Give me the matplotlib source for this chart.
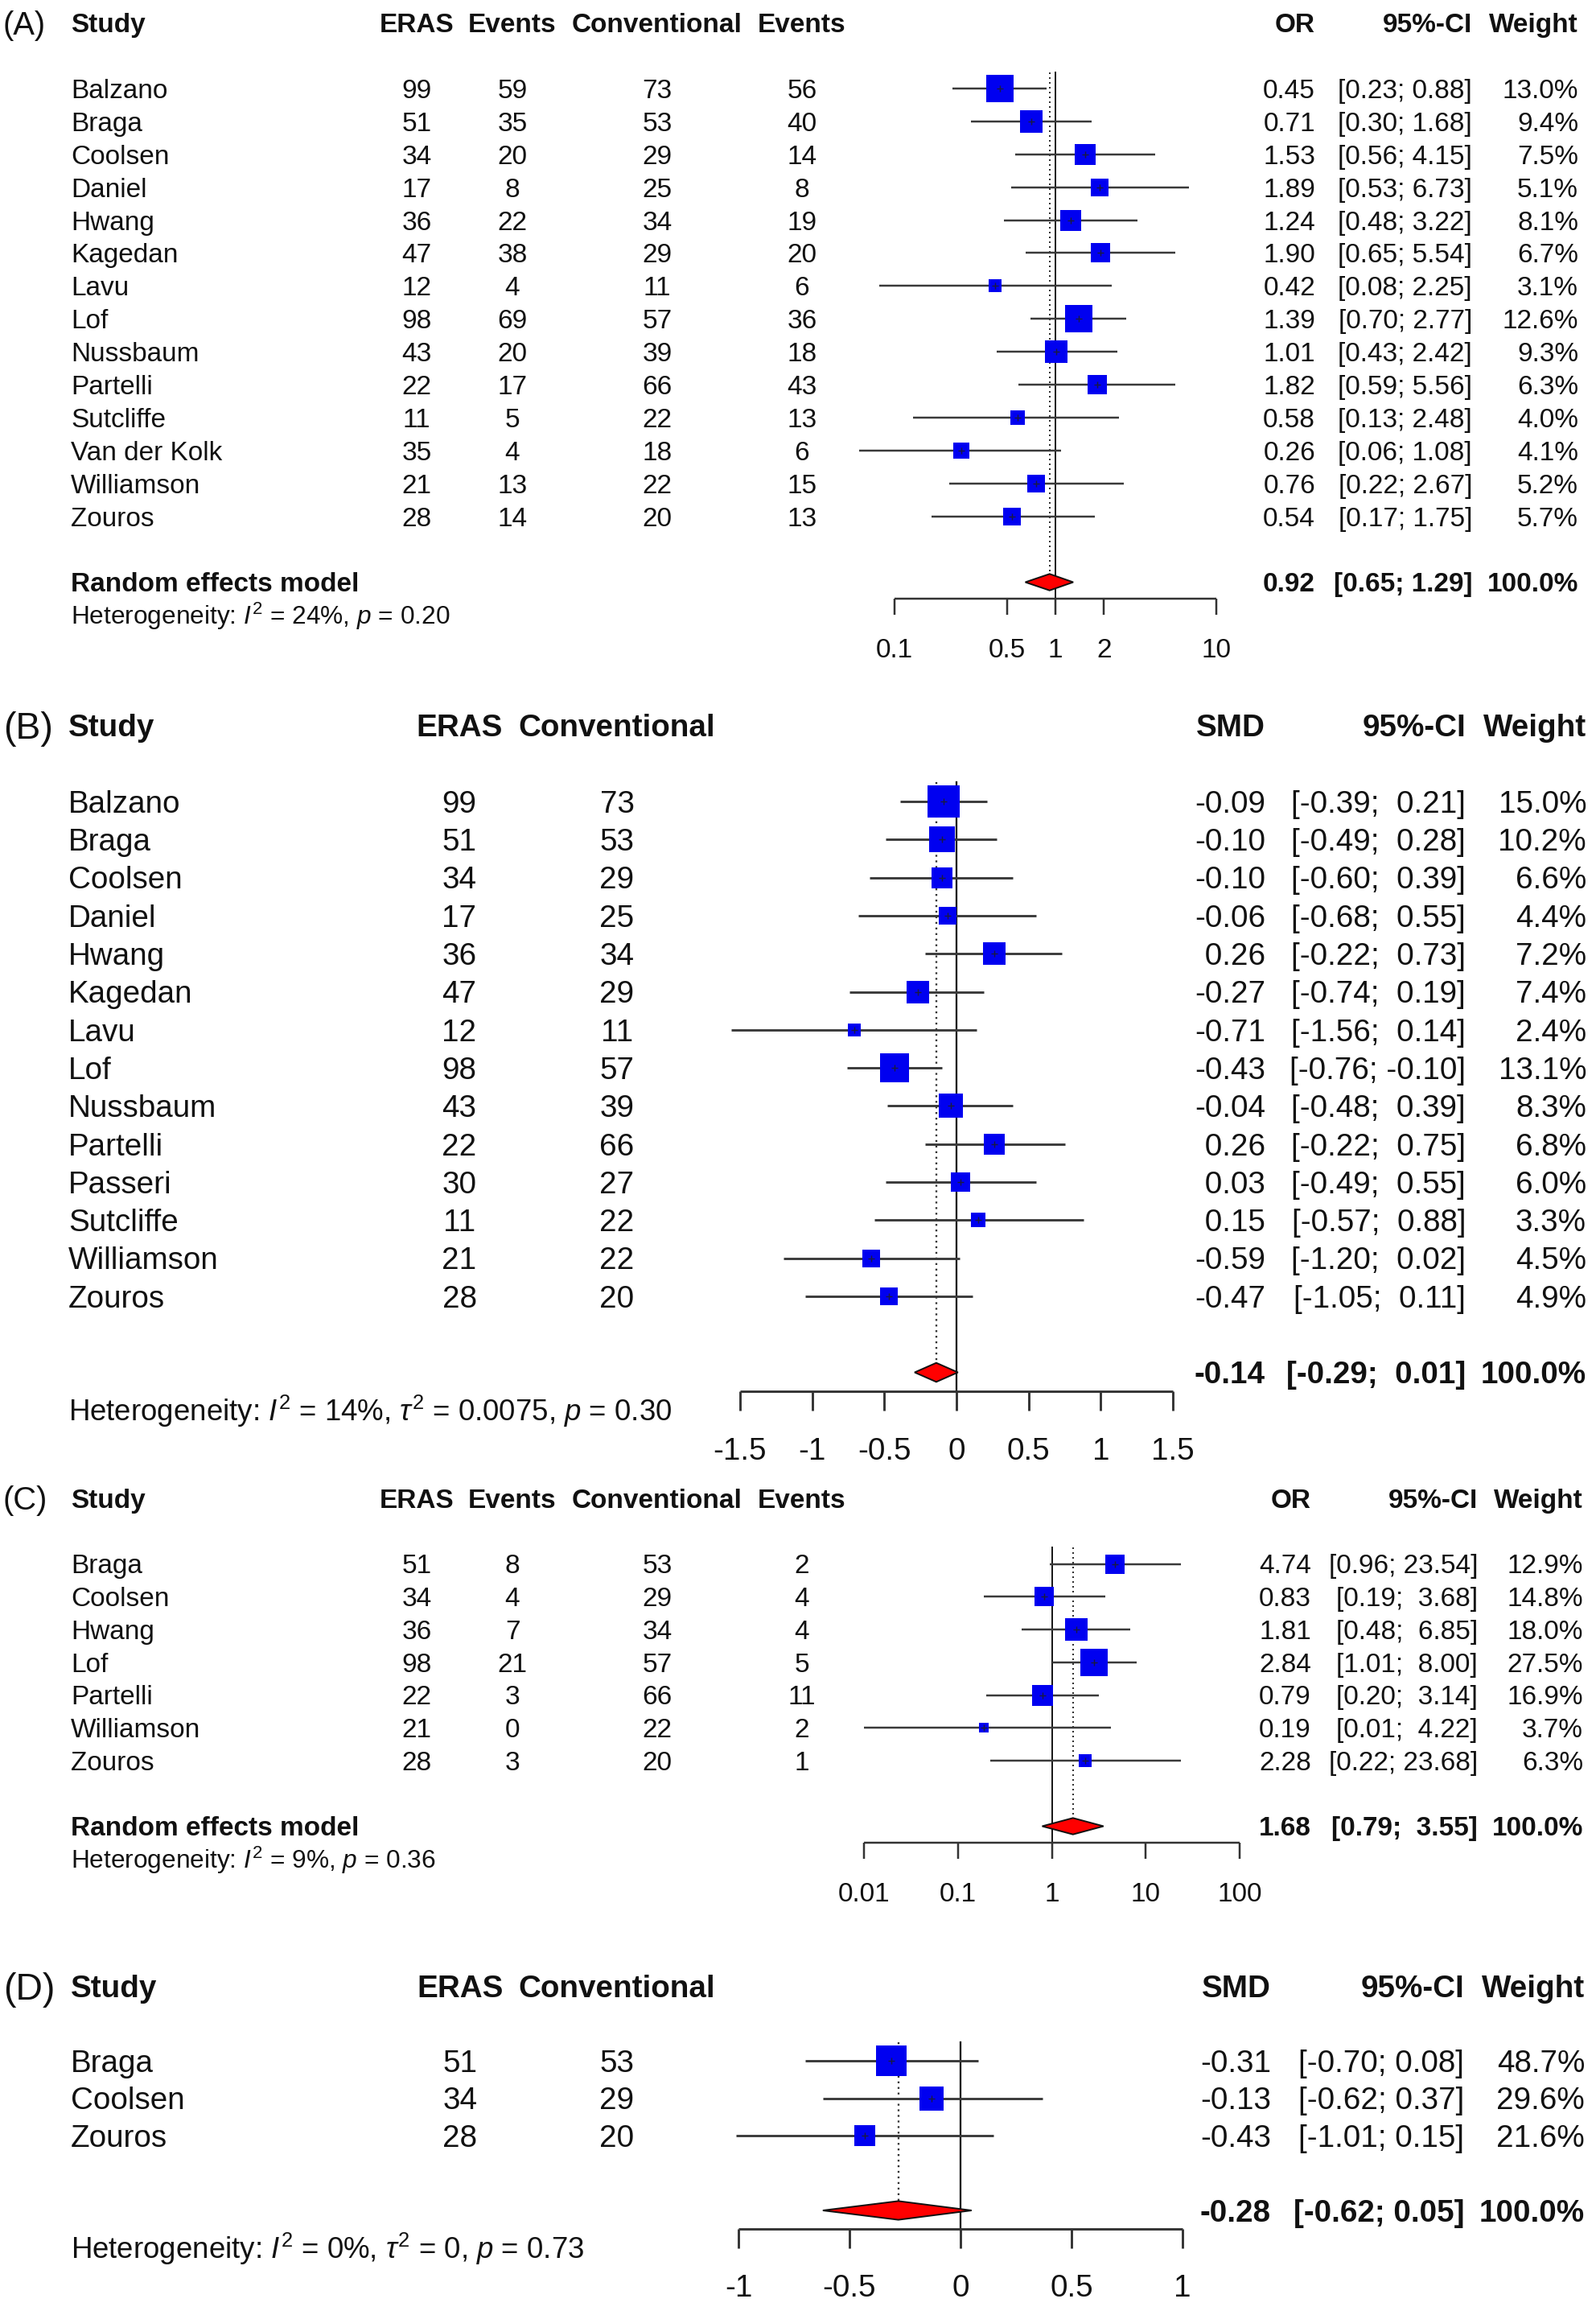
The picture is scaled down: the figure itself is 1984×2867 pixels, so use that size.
import numpy as np
import matplotlib
matplotlib.use("Agg")
import matplotlib.pyplot as plt
from matplotlib import transforms
from matplotlib.patches import Polygon

plt.rcParams['font.family'] = ['Liberation Sans', 'DejaVu Sans']
plt.rcParams['mathtext.fontset'] = 'custom'
plt.rcParams['mathtext.rm'] = 'Liberation Sans'
plt.rcParams['mathtext.it'] = 'Liberation Sans:italic'
plt.rcParams['mathtext.bf'] = 'Liberation Sans:bold'

W, H = 1984, 2867

# ---- panel A: OR, events ----
studies_a = ["Balzano", "Braga", "Coolsen", "Daniel", "Hwang", "Kagedan", "Lavu", "Lof",
             "Nussbaum", "Partelli", "Sutcliffe", "Van der Kolk", "Williamson", "Zouros"]
eras_n_a = [99, 51, 34, 17, 36, 47, 12, 98, 43, 22, 11, 35, 21, 28]
eras_ev_a = [59, 35, 20, 8, 22, 38, 4, 69, 20, 17, 5, 4, 13, 14]
conv_n_a = [73, 53, 29, 25, 34, 29, 11, 57, 39, 66, 22, 18, 22, 20]
conv_ev_a = [56, 40, 14, 8, 19, 20, 6, 36, 18, 43, 13, 6, 15, 13]
or_a = [0.45, 0.71, 1.53, 1.89, 1.24, 1.90, 0.42, 1.39, 1.01, 1.82, 0.58, 0.26, 0.76, 0.54]
lo_a = [0.23, 0.30, 0.56, 0.53, 0.48, 0.65, 0.08, 0.70, 0.43, 0.59, 0.13, 0.06, 0.22, 0.17]
hi_a = [0.88, 1.68, 4.15, 6.73, 3.22, 5.54, 2.25, 2.77, 2.42, 5.56, 2.48, 1.08, 2.67, 1.75]
w_a = [13.0, 9.4, 7.5, 5.1, 8.1, 6.7, 3.1, 12.6, 9.3, 6.3, 4.0, 4.1, 5.2, 5.7]
sum_a = (0.92, 0.65, 1.29)
het_a = r"Heterogeneity: $I^2$ = 24%, $p$ = 0.20"

# ---- panel B: SMD ----
studies_b = ["Balzano", "Braga", "Coolsen", "Daniel", "Hwang", "Kagedan", "Lavu", "Lof",
             "Nussbaum", "Partelli", "Passeri", "Sutcliffe", "Williamson", "Zouros"]
eras_n_b = [99, 51, 34, 17, 36, 47, 12, 98, 43, 22, 30, 11, 21, 28]
conv_n_b = [73, 53, 29, 25, 34, 29, 11, 57, 39, 66, 27, 22, 22, 20]
smd_b = [-0.09, -0.10, -0.10, -0.06, 0.26, -0.27, -0.71, -0.43, -0.04, 0.26, 0.03, 0.15, -0.59, -0.47]
lo_b = [-0.39, -0.49, -0.60, -0.68, -0.22, -0.74, -1.56, -0.76, -0.48, -0.22, -0.49, -0.57, -1.20, -1.05]
hi_b = [0.21, 0.28, 0.39, 0.55, 0.73, 0.19, 0.14, -0.10, 0.39, 0.75, 0.55, 0.88, 0.02, 0.11]
w_b = [15.0, 10.2, 6.6, 4.4, 7.2, 7.4, 2.4, 13.1, 8.3, 6.8, 6.0, 3.3, 4.5, 4.9]
sum_b = (-0.14, -0.29, 0.01)
het_b = r"Heterogeneity: $I^2$ = 14%, $\tau^2$ = 0.0075, $p$ = 0.30"

# ---- panel C: OR, events ----
studies_c = ["Braga", "Coolsen", "Hwang", "Lof", "Partelli", "Williamson", "Zouros"]
eras_n_c = [51, 34, 36, 98, 22, 21, 28]
eras_ev_c = [8, 4, 7, 21, 3, 0, 3]
conv_n_c = [53, 29, 34, 57, 66, 22, 20]
conv_ev_c = [2, 4, 4, 5, 11, 2, 1]
or_c = [4.74, 0.83, 1.81, 2.84, 0.79, 0.19, 2.28]
lo_c = [0.96, 0.19, 0.48, 1.01, 0.20, 0.01, 0.22]
hi_c = [23.54, 3.68, 6.85, 8.00, 3.14, 4.22, 23.68]
w_c = [12.9, 14.8, 18.0, 27.5, 16.9, 3.7, 6.3]
sum_c = (1.68, 0.79, 3.55)
het_c = r"Heterogeneity: $I^2$ = 9%, $p$ = 0.36"

# ---- panel D: SMD ----
studies_d = ["Braga", "Coolsen", "Zouros"]
eras_n_d = [51, 34, 28]
conv_n_d = [53, 29, 20]
smd_d = [-0.31, -0.13, -0.43]
lo_d = [-0.70, -0.62, -1.01]
hi_d = [0.08, 0.37, 0.15]
w_d = [48.7, 29.6, 21.6]
sum_d = (-0.28, -0.62, 0.05)
het_d = r"Heterogeneity: $I^2$ = 0%, $\tau^2$ = 0, $p$ = 0.73"

ticks_a = [0.1, 0.5, 1, 2, 10]
ticklab_a = ["0.1", "0.5", "1", "2", "10"]
ticks_b = [-1.5, -1, -0.5, 0, 0.5, 1, 1.5]
ticklab_b = ["-1.5", "-1", "-0.5", "0", "0.5", "1", "1.5"]
ticks_c = [0.01, 0.1, 1, 10, 100]
ticklab_c = ["0.01", "0.1", "1", "10", "100"]
ticks_d = [-1, -0.5, 0, 0.5, 1]
ticklab_d = ["-1", "-0.5", "0", "0.5", "1"]

fig = plt.figure(figsize=(W / 100, H / 100), dpi=100)
fig.patch.set_facecolor("white")


def pad2(vals):
    s = ["%.2f" % v for v in vals]
    n = max(len(x) for x in s)
    return [x.rjust(n) for x in s]


def panel(tag, studies, cols, est, lo, hi, wt, summ, het, model_label, eff_name,
          y0, sp, fs, xl, xr, lim, log, ticks, ticklabs, ref, study_x, right_x):
    n = len(studies)
    srow = n + 1
    top, bot = -2.8, srow + 2.8
    ytop = y0 + top * sp
    ybot = y0 + bot * sp
    ax = fig.add_axes([xl / W, 1 - ybot / H, (xr - xl) / W, (ybot - ytop) / H])
    if log:
        ax.set_xscale("log")
    ax.set_xlim(*lim)
    ax.set_ylim(bot, top)
    ax.axis("off")
    tr = transforms.blended_transform_factory(fig.transFigure, ax.transData)
    em = fs / 0.72
    boff = 0.358 * em / sp  # baseline offset so that caps are centred on the row

    def txt(xpx, row, s, ha="left", bold=False, size=None):
        sz = size if size else fs
        off = 0.358 * (sz / 0.72) / sp
        ax.text(xpx / W, row + off, s, transform=tr, ha=ha, va="baseline",
                fontsize=sz, fontweight="bold" if bold else "normal", color="#111111")

    # headers
    txt(4, -2, tag, size=fs * 1.2)
    txt(study_x, -2, "Study", bold=True)
    for name, cx, vals in cols:
        txt(cx, -2, name, ha="center", bold=True)
        for i, v in enumerate(vals):
            txt(cx, i, str(v), ha="center")
    ex, cix, wx = right_x
    txt(ex, -2, eff_name, ha="right", bold=True)
    txt(cix, -2, "95%-CI", ha="right", bold=True)
    txt(wx, -2, "Weight", ha="right", bold=True)

    e_s = pad2(list(est) + [summ[0]])
    l_s = pad2(list(lo) + [summ[1]])
    h_s = pad2(list(hi) + [summ[2]])
    for i in range(n):
        txt(study_x, i, studies[i])
        txt(ex, i, e_s[i], ha="right")
        txt(cix, i, "[%s; %s]" % (l_s[i], h_s[i]), ha="right")
        txt(wx, i, "%.1f%%" % wt[i], ha="right")
    txt(ex, srow, e_s[-1], ha="right", bold=True)
    txt(cix, srow, "[%s; %s]" % (l_s[-1], h_s[-1]), ha="right", bold=True)
    txt(wx, srow, "100.0%", ha="right", bold=True)
    if model_label:
        txt(study_x, srow, "Random effects model", bold=True)
    txt(study_x, srow + 1, het, size=fs * 0.95)

    lw = fs * 0.075
    arow = srow + 0.5
    # reference lines
    ax.plot([ref, ref], [-0.5, arow], color="#1a1a1a", lw=lw * 0.8, zorder=1, clip_on=False)
    ax.plot([summ[0], summ[0]], [-0.5, srow - 0.25], color="#333333", lw=lw * 0.8,
            ls=(0, (1.0, 2.0)), zorder=1, clip_on=False)
    # studies
    wmax = max(wt)
    for i in range(n):
        ax.plot([lo[i], hi[i]], [i, i], color="#3a3a3a", lw=lw, solid_capstyle="butt",
                zorder=2, clip_on=False)
        side = 0.83 * np.sqrt(wt[i] / wmax) * sp * 0.72
        ax.plot(est[i], i, marker="s", ms=side, color="#0000f0", mec="#0000f0", mew=0,
                ls="none", zorder=3, clip_on=False)
        ax.plot(est[i], i, marker="+", ms=fs * 0.22, color="#1a1a40", mew=1.0,
                ls="none", zorder=4, clip_on=False)
    # diamond
    dia = Polygon([(summ[1], srow), (summ[0], srow - 0.25), (summ[2], srow), (summ[0], srow + 0.25)],
                  closed=True, fc="#ff0000", ec="#111111", lw=1.4, zorder=5, clip_on=False)
    ax.add_patch(dia)
    # axis
    ax.plot([lim[0], lim[1]], [arow, arow], color="#333333", lw=lw, zorder=1, clip_on=False,
            solid_capstyle="butt")
    for t, lab in zip(ticks, ticklabs):
        ax.plot([t, t], [arow, arow + 0.5], color="#333333", lw=lw, zorder=1, clip_on=False,
                solid_capstyle="butt")
        ax.text(t, srow + 2 + boff, lab, ha="center", va="baseline", fontsize=fs, color="#111111")


fs1, fs2 = 24.0, 27.8

panel("(A)", studies_a,
      [("ERAS", 518, eras_n_a), ("Events", 637, eras_ev_a),
       ("Conventional", 817, conv_n_a), ("Events", 997, conv_ev_a)],
      or_a, lo_a, hi_a, w_a, sum_a, het_a, True, "OR",
      110, 40.9, fs1, 1112, 1512, (0.1, 10), True, ticks_a, ticklab_a, 1.0, 88,
      (1635, 1830, 1962))

panel("(B)", studies_b,
      [("ERAS", 571, eras_n_b), ("Conventional", 767, conv_n_b)],
      smd_b, lo_b, hi_b, w_b, sum_b, het_b, False, "SMD",
      996, 47.3, fs2, 920, 1458, (-1.5, 1.5), False, ticks_b, ticklab_b, 0.0, 85,
      (1573, 1822, 1972))

panel("(C)", studies_c,
      [("ERAS", 518, eras_n_c), ("Events", 637, eras_ev_c),
       ("Conventional", 817, conv_n_c), ("Events", 997, conv_ev_c)],
      or_c, lo_c, hi_c, w_c, sum_c, het_c, True, "OR",
      1943.5, 40.75, fs1, 1074, 1541, (0.01, 100), True, ticks_c, ticklab_c, 1.0, 88,
      (1630, 1837, 1968))

panel("(D)", studies_d,
      [("ERAS", 572, eras_n_d), ("Conventional", 767, conv_n_d)],
      smd_d, lo_d, hi_d, w_d, sum_d, het_d, False, "SMD",
      2561, 46.5, fs2, 918, 1470, (-1, 1), False, ticks_d, ticklab_d, 0.0, 88,
      (1580, 1820, 1970))

fig.savefig("out.png", dpi=100, facecolor="white")
